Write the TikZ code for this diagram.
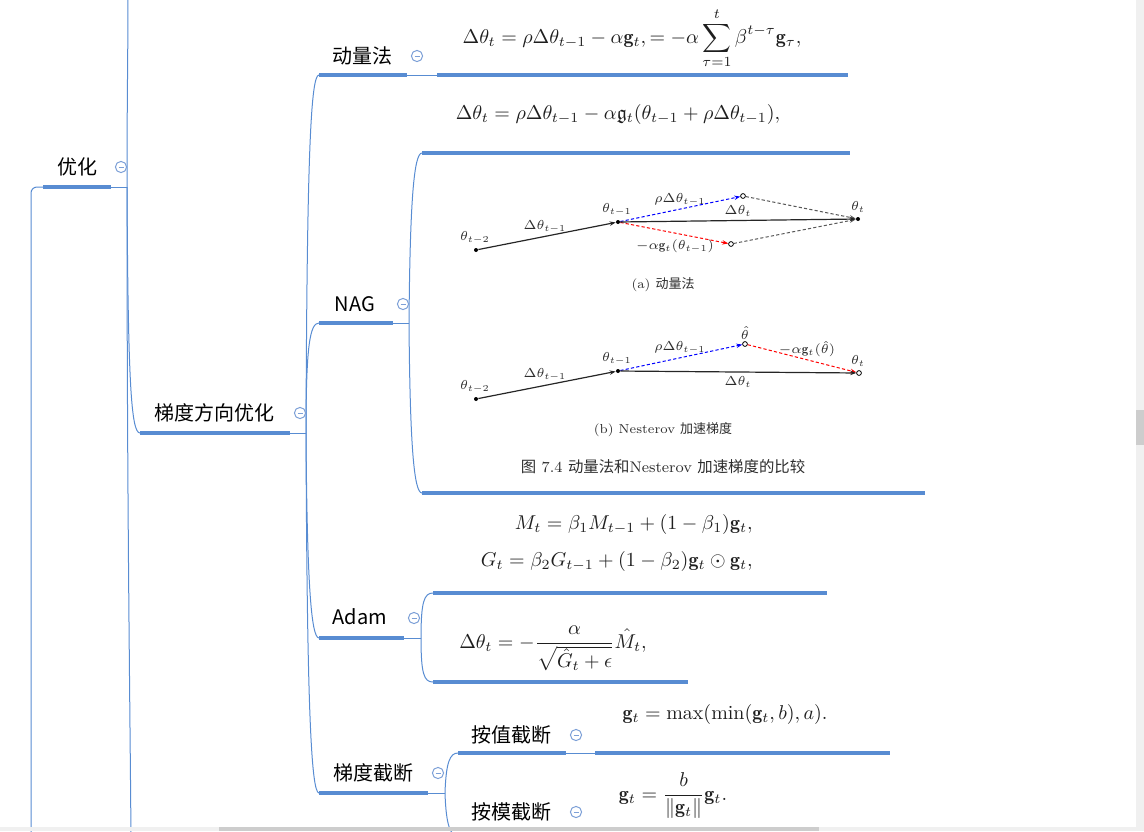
\RequirePackage{fix-cm}
\documentclass[tikz,border=0pt]{standalone}
\usepackage{amsmath,amssymb}
\usepackage{fontspec}
\newfontfamily\cjk{Noto Sans CJK SC}
\usetikzlibrary{calc,arrows.meta}
\definecolor{mline}{RGB}{88,140,210}
\definecolor{mcirc}{RGB}{125,160,215}
\definecolor{sbbg}{RGB}{240,240,240}
\definecolor{sbth}{RGB}{205,205,205}
\definecolor{figtx}{RGB}{45,45,45}
\definecolor{fmtx}{RGB}{30,30,30}
\newcommand\cbtn[2]{\node[cbtnnode] (#1) at (#2) {};
  \draw[mcirc,line width=0.5pt] ($(#1.center)+(-2.5,0)$) -- ($(#1.center)+(2.5,0)$);}
\begin{document}
\begin{tikzpicture}[x=0.5pt,y=-0.5pt,
  thickline/.style={mline,line width=1.75pt},
  thinline/.style={mline,line width=0.5pt},
  topic/.style={font=\cjk\fontsize{10}{12}\selectfont,inner sep=0pt},
  formula/.style={font=\fontsize{10}{12}\selectfont,text=fmtx,inner sep=0pt,anchor=base},
  cbtnnode/.style={circle,draw=mcirc,line width=0.5pt,minimum size=5.6pt,inner sep=0pt},
  dot/.style={circle,fill=black,minimum size=2pt,inner sep=0pt},
  ocirc/.style={circle,draw=black,fill=white,line width=0.4pt,minimum size=2.4pt,inner sep=0pt},
  farrow/.style={black!85,line width=0.6pt,-{Stealth[length=3pt,width=2.2pt]}},
  bluearrow/.style={blue,line width=0.5pt,dash pattern=on 1.6pt off 1.1pt,-{Stealth[length=3pt,width=2.2pt]}},
  redarrow/.style={red,line width=0.5pt,dash pattern=on 1.6pt off 1.1pt,-{Stealth[length=3pt,width=2.2pt]}},
  grayarrow/.style={black!65,line width=0.5pt,dash pattern=on 1.6pt off 1.1pt,-{Stealth[length=3pt,width=2.2pt]}},
  flabel/.style={font=\fontsize{6.5}{8}\selectfont,text=figtx,inner sep=0pt}
]
\useasboundingbox (0,0) rectangle (1144,831);
\clip (0,0) rectangle (1144,831);

% ---------- coordinates ----------
\coordinate (L0) at (31,840);
\coordinate (yhS) at (43,187); \coordinate (yhE) at (111,187); \coordinate (yhB) at (127,187);
\coordinate (topEnd) at (128,-5); \coordinate (botEnd) at (131,840);
\coordinate (tdS) at (140,433); \coordinate (tdE) at (290,433); \coordinate (tdB) at (306,433);
\coordinate (dlS) at (319,75); \coordinate (dlE) at (407,75); \coordinate (dlF) at (437,75); \coordinate (dlFE) at (848,75);
\coordinate (nagS) at (319,323); \coordinate (nagE) at (393,323); \coordinate (nagB) at (409,323);
\coordinate (n1S) at (422,153); \coordinate (n1E) at (850,153);
\coordinate (n2S) at (422,493); \coordinate (n2E) at (925,493);
\coordinate (adS) at (319,638); \coordinate (adE) at (404,638); \coordinate (adB) at (421,638);
\coordinate (a1S) at (433,593); \coordinate (a1E) at (827,593);
\coordinate (a2S) at (433,682); \coordinate (a2E) at (688,682);
\coordinate (gcS) at (319,793); \coordinate (gcE) at (428,793); \coordinate (gcB) at (445,793);
\coordinate (g1S) at (458,753); \coordinate (g1E) at (566,753); \coordinate (g1F) at (595,753); \coordinate (g1FE) at (890,753);
\coordinate (g2S) at (458,836);

% ---------- connectors ----------
\draw[thinline,rounded corners=3pt] (L0) |- (yhS);
\draw[thinline] (yhB) .. controls (127,100) and (128,50) .. (topEnd);
\draw[thinline] (yhB) .. controls (128,380) and (131,433) .. (tdS);
\draw[thinline] (yhB) .. controls (127,500) and (130,700) .. (botEnd);

\draw[thinline] (tdB) .. controls (307,150) and (311,75) .. (dlS);
\draw[thinline] (tdB) .. controls (306,345) and (310,323) .. (nagS);
\draw[thinline] (tdB) .. controls (307,580) and (311,638) .. (adS);
\draw[thinline] (tdB) .. controls (307,700) and (311,793) .. (gcS);

\draw[thinline] (nagB) .. controls (410,200) and (414,153) .. (n1S);
\draw[thinline] (nagB) .. controls (410,446) and (414,493) .. (n2S);

\draw[thinline] (adB) .. controls (421,602) and (424,593) .. (a1S);
\draw[thinline] (adB) .. controls (421,674) and (424,682) .. (a2S);

\draw[thinline] (gcB) .. controls (446,762) and (450,753) .. (g1S);
\draw[thinline] (gcB) .. controls (446,824) and (450,836) .. (g2S);

% ---------- underlines ----------
\draw[thickline] (yhS) -- (yhE); \draw[thinline] (yhE) -- (yhB);
\draw[thickline] (tdS) -- (tdE); \draw[thinline] (tdE) -- (tdB);
\draw[thickline] (dlS) -- (dlE); \draw[thinline] (dlE) -- (dlF); \draw[thickline] (dlF) -- (dlFE);
\draw[thickline] (nagS) -- (nagE); \draw[thinline] (nagE) -- (nagB);
\draw[thickline] (n1S) -- (n1E);
\draw[thickline] (n2S) -- (n2E);
\draw[thickline] (adS) -- (adE); \draw[thinline] (adE) -- (adB);
\draw[thickline] (a1S) -- (a1E);
\draw[thickline] (a2S) -- (a2E);
\draw[thickline] (gcS) -- (gcE); \draw[thinline] (gcE) -- (gcB);
\draw[thickline] (g1S) -- (g1E); \draw[thinline] (g1E) -- (g1F); \draw[thickline] (g1F) -- (g1FE);

% ---------- topic labels ----------
\node[topic] (youhua) at (77,167) {优化};
\node[topic] (tidu) at (214,413) {梯度方向优化};
\node[topic] (dongliang) at (362,56) {动量法};
\node[topic] (nag) at (355,304) {NAG};
\node[topic] (adam) at (360,617) {Adam};
\node[topic] (jieduan) at (373,773) {梯度截断};
\node[topic] (anzhi) at (511,735) {按值截断};
\node[topic] (anmo) at (511,812) {按模截断};

\cbtn{c1}{121,167}
\cbtn{c2}{300,413}
\cbtn{c3}{417,56}
\cbtn{c4}{403,304}
\cbtn{c5}{414,618}
\cbtn{c6}{438,773}
\cbtn{c7}{576,735}
\cbtn{c8}{576,812}

% ---------- formulas ----------
\node[formula] (f1) at (632,43) {$\displaystyle \Delta\theta_t=\rho\Delta\theta_{t-1}-\alpha\mathbf{g}_t,=-\alpha\sum_{\tau=1}^{t}\beta^{t-\tau}\mathbf{g}_{\tau},$};
\node[formula] (f2) at (618,119) {$\Delta\theta_t=\rho\Delta\theta_{t-1}-\alpha\mathfrak{g}_t(\theta_{t-1}+\rho\Delta\theta_{t-1}),$};
\node[formula,anchor=base east] (f3a) at (753,529) {$M_t=\beta_1 M_{t-1}+(1-\beta_1)\mathbf{g}_t,$};
\node[formula,anchor=base east] (f3b) at (753,566) {$G_t=\beta_2 G_{t-1}+(1-\beta_2)\mathbf{g}_t\odot\mathbf{g}_t,$};
\node[formula] (f4) at (553,648) {$\displaystyle \Delta\theta_t=-\frac{\alpha}{\sqrt{\hat{G}_t+\epsilon}}\hat{M}_t,$};
\node[formula] (f5) at (725,719) {$\mathbf{g}_t=\max(\min(\mathbf{g}_t,b),a).$};
\node[formula] (f6) at (673,800) {$\displaystyle \mathbf{g}_t=\frac{b}{\|\mathbf{g}_t\|}\mathbf{g}_t.$};

% ---------- NAG figure (a) ----------
\node[dot] (pa1) at (476,250) {};
\node[dot] (pa2) at (618,222) {};
\node[ocirc] (pa3) at (743,196) {};
\node[ocirc] (pa4) at (731,244) {};
\node[dot] (pa5) at (858,219) {};
\draw[farrow] (pa1) -- (pa2);
\draw[bluearrow] (pa2) -- (pa3);
\draw[redarrow] (pa2) -- (pa4);
\draw[grayarrow] (pa3) -- (pa5);
\draw[grayarrow] (pa4) -- (pa5);
\draw[farrow] (pa2) -- (pa5);
\node[flabel] (la1) at (475,238) {$\theta_{t-2}$};
\node[flabel] (la2) at (617,210) {$\theta_{t-1}$};
\node[flabel] (la3) at (545,227) {$\Delta\theta_{t-1}$};
\node[flabel] (la4) at (680,200) {$\rho\Delta\theta_{t-1}$};
\node[flabel] (la5) at (738,211) {$\Delta\theta_t$};
\node[flabel] (la6) at (675,246) {$-\alpha\mathbf{g}_t(\theta_{t-1})$};
\node[flabel] (la7) at (858,207) {$\theta_t$};
\node[flabel] (capa) at (663,285) {(a) {\cjk 动量法}};

% ---------- NAG figure (b) ----------
\node[dot] (pb1) at (476,399) {};
\node[dot] (pb2) at (618,371) {};
\node[ocirc] (pb3) at (745,344) {};
\node[ocirc] (pb4) at (859,373) {};
\draw[farrow] (pb1) -- (pb2);
\draw[bluearrow] (pb2) -- (pb3);
\draw[redarrow] (pb3) -- (pb4);
\draw[farrow] (pb2) -- (pb4);
\node[flabel] (lb1) at (475,387) {$\theta_{t-2}$};
\node[flabel] (lb2) at (617,359) {$\theta_{t-1}$};
\node[flabel] (lb3) at (745,333) {$\hat{\theta}$};
\node[flabel] (lb4) at (545,375) {$\Delta\theta_{t-1}$};
\node[flabel] (lb5) at (680,348) {$\rho\Delta\theta_{t-1}$};
\node[flabel] (lb6) at (807,349) {$-\alpha\mathbf{g}_t(\hat{\theta})$};
\node[flabel] (lb7) at (738,382) {$\Delta\theta_t$};
\node[flabel] (lb8) at (858,361) {$\theta_t$};
\node[flabel] (capb) at (663,430) {(b) Nesterov {\cjk 加速梯度}};
\node[flabel,font=\fontsize{7.7}{9}\selectfont] (capfig) at (663,467) {{\cjk 图} 7.4 {\cjk 动量法和}Nesterov {\cjk 加速梯度的比较}};

% ---------- scrollbars ----------
\fill[sbbg] (1136,0) rectangle (1144,831);
\fill[sbth] (1136,410) rectangle (1144,445);
\fill[sbbg] (0,827) rectangle (1136,831);
\fill[sbth] (219,827) rectangle (819,831);
\end{tikzpicture}
\end{document}
